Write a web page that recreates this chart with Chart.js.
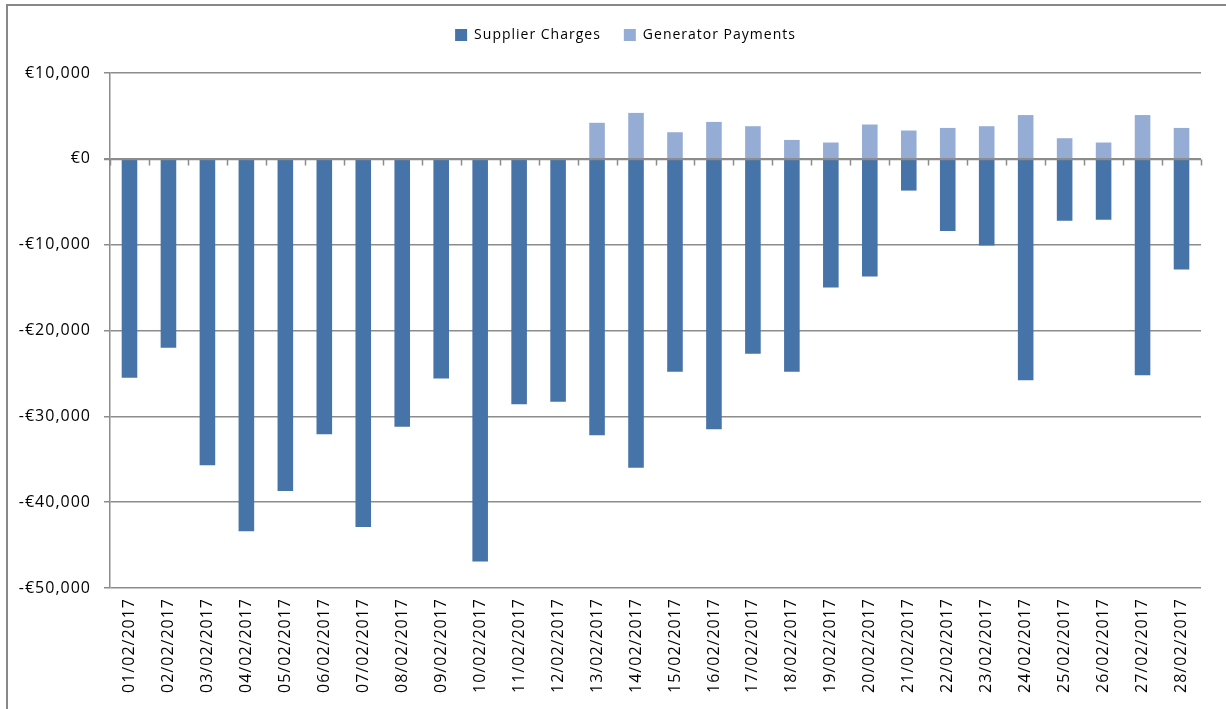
<!DOCTYPE html>
<html>
<head>
<meta charset="utf-8">
<script src="https://cdn.jsdelivr.net/npm/chart.js@4/dist/chart.umd.min.js"></script>
<style>
    html, body { margin: 0; padding: 0; background: #fff; }
    #wrap { position: relative; width: 1226px; height: 709px; overflow: hidden; }
    #frame { position: absolute; left: 6px; top: 4px; width: 1400px; height: 900px; border-left: 2px solid #888; border-top: 2px solid #888; }
    #myChart { position: absolute; left: 0; top: 0; }
</style>
</head>
<body>
<div id="wrap">
    <div id="frame"></div>
    <canvas id="myChart" width="1226" height="709"></canvas>
</div>
<script>
var labels = ['01/02/2017', '02/02/2017', '03/02/2017', '04/02/2017', '05/02/2017', '06/02/2017', '07/02/2017',
    '08/02/2017', '09/02/2017', '10/02/2017', '11/02/2017', '12/02/2017', '13/02/2017', '14/02/2017',
    '15/02/2017', '16/02/2017', '17/02/2017', '18/02/2017', '19/02/2017', '20/02/2017', '21/02/2017',
    '22/02/2017', '23/02/2017', '24/02/2017', '25/02/2017', '26/02/2017', '27/02/2017', '28/02/2017'];

var supplierCharges = [-25500, -22000, -35700, -43400, -38700, -32100, -42900,
    -31200, -25600, -46900, -28600, -28300, -32200, -36000,
    -24800, -31500, -22700, -24800, -15000, -13700, -3700,
    -8400, -10100, -25800, -7200, -7100, -25200, -12900];

var generatorPayments = [0, 0, 0, 0, 0, 0, 0,
    0, 0, 0, 0, 0, 4200, 5350,
    3100, 4300, 3800, 2200, 1900, 4000, 3300,
    3600, 3800, 5100, 2400, 1900, 5100, 3600];

var yMin = -50000;
var yMax = 10000;
var yStep = 10000;

var gridColor = '#8c8c8c';
var fontFamily = "'Open Sans', 'Noto Sans', sans-serif";

// excel style horizontal axis crossing at zero, with tick marks between categories
var zeroAxis = {
    id: 'zeroAxis',
    afterDatasetsDraw: function (chart) {
        var ctx = chart.ctx;
        var x = chart.scales.x;
        var y0 = Math.round(chart.scales.y.getPixelForValue(0)) + 0.5;
        var area = chart.chartArea;
        ctx.save();
        ctx.strokeStyle = gridColor;
        ctx.lineWidth = 1.5;
        ctx.beginPath();
        ctx.moveTo(area.left - 6, y0);
        ctx.lineTo(area.right, y0);
        for (var i = 0; i <= labels.length; i++) {
            var px = Math.round(x.getPixelForValue(i - 0.5)) + 0.5;
            ctx.moveTo(px, y0);
            ctx.lineTo(px, y0 + 6);
        }
        ctx.stroke();
        ctx.restore();
    }
};

// outer chart border, only left and top show in the crop
var frame = {
    id: 'chartFrame',
    afterDraw: function (chart) {
        var ctx = chart.ctx;
        ctx.save();
        ctx.letterSpacing = '0px';
        ctx.strokeStyle = '#888888';
        ctx.lineWidth = 2;
        ctx.beginPath();
        ctx.moveTo(7, 709);
        ctx.lineTo(7, 5);
        ctx.lineTo(1226, 5);
        ctx.stroke();
        ctx.restore();
    }
};

// extra room under the legend, and nudge it right like the original
var legendGap = {
    id: 'legendGap',
    beforeInit: function (chart) {
        var fit = chart.legend.fit;
        chart.legend.fit = function () {
            fit.bind(chart.legend)();
            this.height += 21;
        };
    },
    afterLayout: function (chart) {
        chart.legend.left += 20;
        chart.legend.right += 20;
    }
};

// the original text is spaced out a bit
var spacing = {
    id: 'spacing',
    beforeLayout: function (chart) { chart.ctx.letterSpacing = '1px'; },
    beforeDraw: function (chart) { chart.ctx.letterSpacing = '1px'; }
};

var ctx = document.getElementById('myChart').getContext('2d');
var chart = new Chart(ctx, {
    type: 'bar',
    data: {
        labels: labels,
        datasets: [{
            label: 'Supplier Charges',
            data: supplierCharges,
            backgroundColor: '#4673a8',
            barPercentage: 0.8,
            categoryPercentage: 0.5
        }, {
            label: 'Generator Payments',
            data: generatorPayments,
            backgroundColor: '#95acd4',
            barPercentage: 0.8,
            categoryPercentage: 0.5
        }]
    },
    options: {
        responsive: false,
        animation: false,
        layout: {
            padding: { left: 10, right: 25, top: 5, bottom: 0 }
        },
        plugins: {
            legend: {
                position: 'top',
                labels: {
                    boxWidth: 12,
                    boxHeight: 12,
                    padding: 23,
                    color: '#000',
                    font: { family: fontFamily, size: 14 }
                }
            },
            tooltip: { enabled: false }
        },
        scales: {
            x: {
                stacked: true,
                grid: { display: false, drawTicks: false },
                border: { display: false },
                ticks: {
                    minRotation: 90,
                    maxRotation: 90,
                    padding: 10,
                    color: '#000',
                    font: { family: fontFamily, size: 16 }
                },
                afterFit: function (scale) { scale.height = 121; }
            },
            y: {
                stacked: true,
                min: yMin,
                max: yMax,
                grid: {
                    color: gridColor,
                    lineWidth: 1.5,
                    tickLength: 6,
                    tickColor: gridColor
                },
                border: { color: gridColor, width: 1.5 },
                ticks: {
                    stepSize: yStep,
                    padding: 13,
                    color: '#000',
                    font: { family: fontFamily, size: 16 },
                    callback: function (v) {
                        return (v < 0 ? '-' : '') + '€' + Math.abs(v).toLocaleString('en-US');
                    }
                },
                afterFit: function (scale) { scale.width = 100; }
            }
        }
    },
    plugins: [frame, spacing, zeroAxis, legendGap]
});
</script>
</body>
</html>
